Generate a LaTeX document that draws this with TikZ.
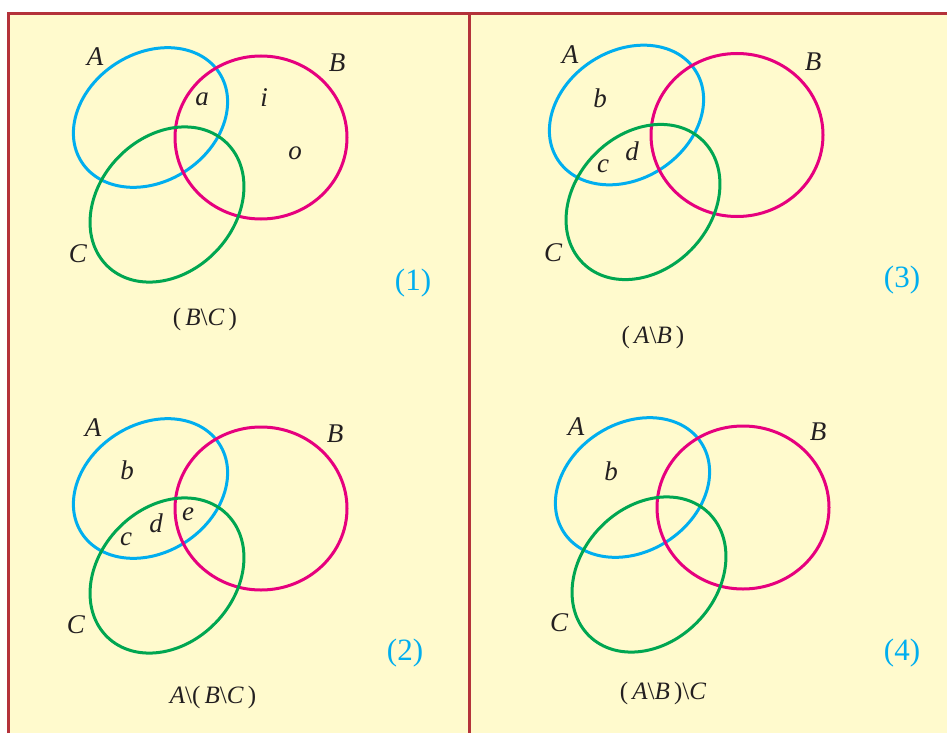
\documentclass[tikz,border=0pt]{standalone}
\usepackage{fontspec}
\setmainfont{Liberation Serif}

\definecolor{paper}{RGB}{255,250,205}
\definecolor{framered}{RGB}{180,50,58}
\definecolor{setblue}{RGB}{0,174,239}
\definecolor{setpink}{RGB}{230,0,126}
\definecolor{setgreen}{RGB}{0,166,81}
\definecolor{ink}{RGB}{35,31,32}

\begin{document}
\begin{tikzpicture}[x=0.5pt, y=-0.5pt,
    setline/.style={line width=1.5pt},
    setA/.style={setline, draw=setblue},
    setB/.style={setline, draw=setpink},
    setC/.style={setline, draw=setgreen},
    lbl/.style={inner sep=0pt, text=ink, font=\fontsize{13.5}{16}\selectfont\itshape},
    caption/.style={inner sep=0pt, text=ink, font=\fontsize{12.5}{15}\selectfont},
    panelno/.style={inner sep=0pt, text=setblue, font=\fontsize{15.5}{18}\selectfont}]
  \useasboundingbox (0,0) rectangle (947,733);

  % Paper and frame
  \fill[white] (0,0) rectangle (947,733);
  \fill[paper] (8.5,13.5) rectangle (947,733);
  \draw[framered, line width=1.5pt] (8.5,733) -- (8.5,13.5) -- (947,13.5);
  \draw[framered, line width=1.5pt] (469,13.5) -- (469,733);

  % Panel (1): B\C
  \begin{scope}
    \draw[setA, rotate around={33:(150.5,117.5)}] (150.5,117.5) ellipse [x radius=82, y radius=64];
    \draw[setB] (261,137.5) ellipse [x radius=86, y radius=81.5];
    \draw[setC, rotate around={46:(167,204.5)}] (167,204.5) ellipse [x radius=85.7, y radius=67.8];
    \node[lbl] (A1) at (95, 57) {A};
    \node[lbl] (B1) at (337, 63) {B};
    \node[lbl] (C1) at (78, 254) {C};
    \node[lbl] (a1) at (202, 99) {a};
    \node[lbl] (i1) at (264, 98) {i};
    \node[lbl] (o1) at (295, 153) {o};
    \node[panelno] (n1) at (413, 283) {(1)};
    \node[caption] (cap1) at (205, 319) {(\,\textit{B}\textbackslash\textit{C}\,)};
  \end{scope}

  % Panel (2): A\(B\C)
  \begin{scope}[shift={(0,371)}]
    \draw[setA, rotate around={33:(150.5,117.5)}] (150.5,117.5) ellipse [x radius=82, y radius=64];
    \draw[setB] (261,137.5) ellipse [x radius=86, y radius=81.5];
    \draw[setC, rotate around={46:(167,204.5)}] (167,204.5) ellipse [x radius=85.7, y radius=67.8];
    \node[lbl] (A2) at (93, 57) {A};
    \node[lbl] (B2) at (335, 63) {B};
    \node[lbl] (C2) at (76, 254) {C};
    \node[lbl] (b2) at (127, 99) {b};
    \node[lbl] (c2) at (126, 168) {c};
    \node[lbl] (d2) at (156, 152) {d};
    \node[lbl] (e2) at (188, 143) {e};
    \node[panelno] (n2) at (405, 282) {(2)};
    \node[caption] (cap2) at (213, 326) {\textit{A}\textbackslash(\,\textit{B}\textbackslash\textit{C}\,)};
  \end{scope}

  % Panel (3): A\B
  \begin{scope}[shift={(476,-2.5)}]
    \draw[setA, rotate around={33:(150.5,117.5)}] (150.5,117.5) ellipse [x radius=82, y radius=64];
    \draw[setB] (261,137.5) ellipse [x radius=86, y radius=81.5];
    \draw[setC, rotate around={46:(167,204.5)}] (167,204.5) ellipse [x radius=85.7, y radius=67.8];
    \node[lbl] (A3) at (94, 57.5) {A};
    \node[lbl] (B3) at (337, 64) {B};
    \node[lbl] (C3) at (77, 255) {C};
    \node[lbl] (b3) at (124, 100.5) {b};
    \node[lbl] (c3) at (127, 169) {c};
    \node[lbl] (d3) at (156, 154) {d};
    \node[panelno] (n3) at (426, 283) {(3)};
    \node[caption] (cap3) at (177, 340) {(\,\textit{A}\textbackslash\textit{B}\,)};
  \end{scope}

  % Panel (4): (A\B)\C
  \begin{scope}[shift={(482,370)}]
    \draw[setA, rotate around={33:(150.5,117.5)}] (150.5,117.5) ellipse [x radius=82, y radius=64];
    \draw[setB] (261,137.5) ellipse [x radius=86, y radius=81.5];
    \draw[setC, rotate around={46:(167,204.5)}] (167,204.5) ellipse [x radius=85.7, y radius=67.8];
    \node[lbl] (A4) at (94, 57) {A};
    \node[lbl] (B4) at (336, 62) {B};
    \node[lbl] (C4) at (77, 253) {C};
    \node[lbl] (b4) at (129, 101) {b};
    \node[panelno] (n4) at (420, 283) {(4)};
    \node[caption] (cap4) at (181, 323) {(\,\textit{A}\textbackslash\textit{B}\,)\textbackslash\textit{C}};
  \end{scope}
\end{tikzpicture}
\end{document}
